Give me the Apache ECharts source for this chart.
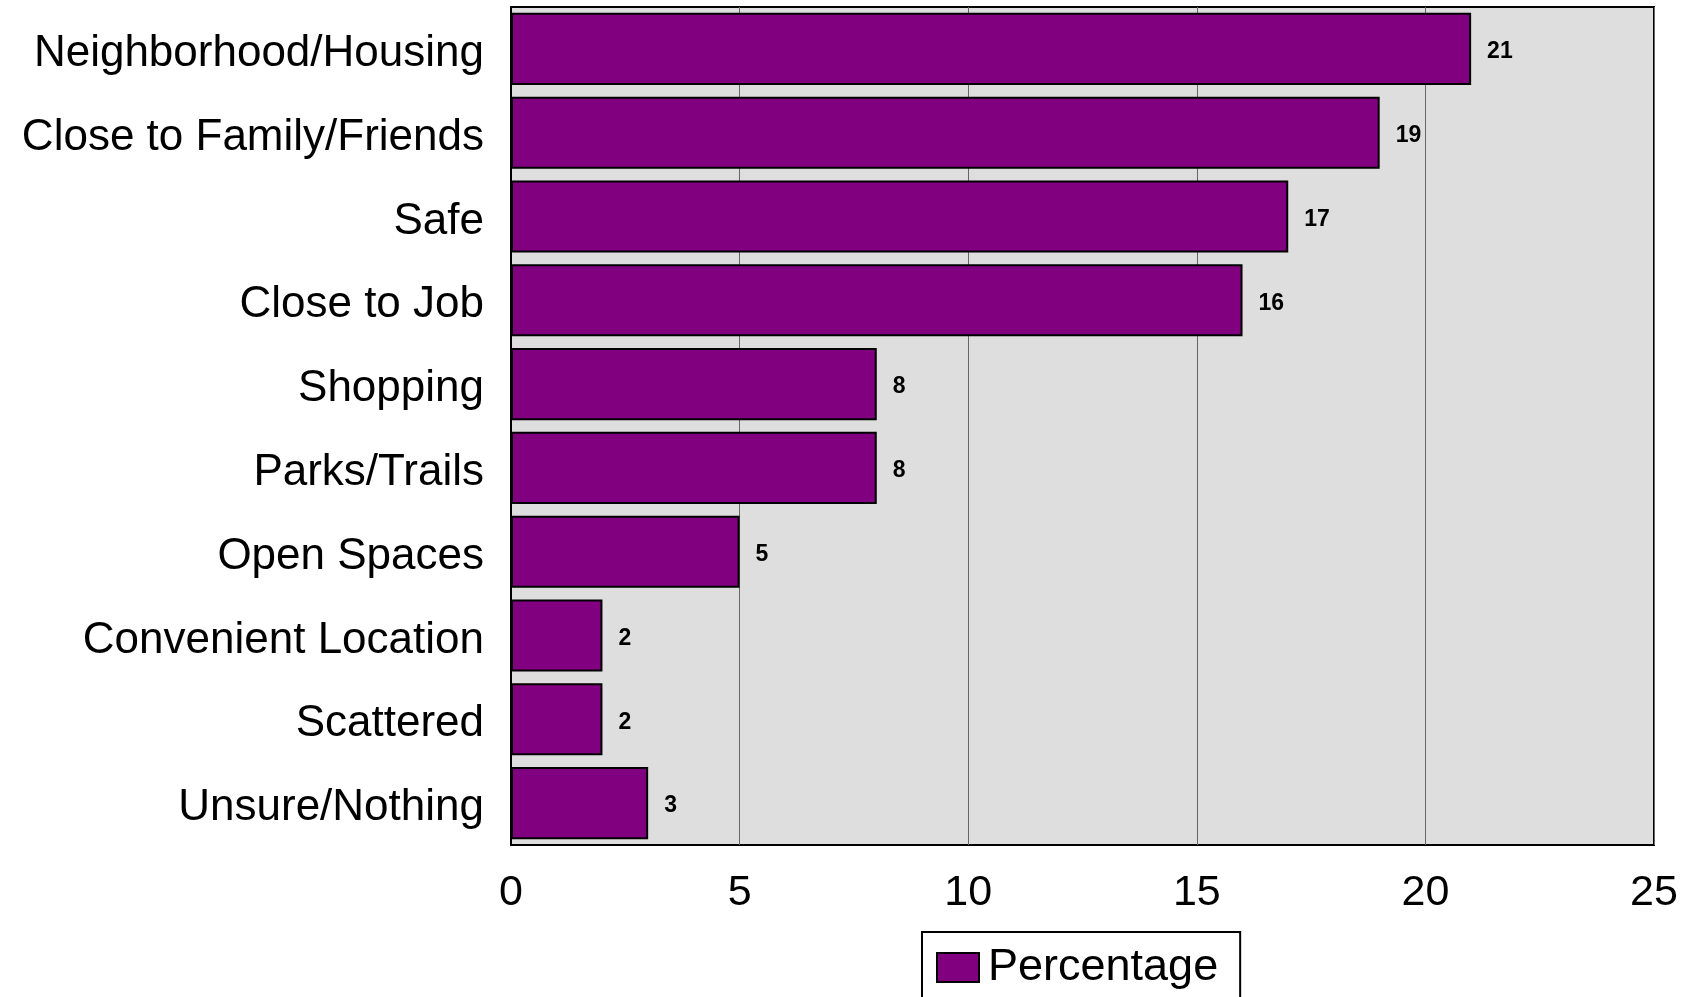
<!DOCTYPE html>
<html>
<head>
<meta charset="utf-8">
<script src="https://cdn.jsdelivr.net/npm/echarts@6/dist/echarts.min.js"></script>
<style>
  html, body { margin: 0; padding: 0; background: #fff; }
  #chart { width: 1698px; height: 997px; }
</style>
</head>
<body>
<div id="chart"></div>
<script>
// categories, top to bottom
const categories = [
  "Neighborhood/Housing",
  "Close to Family/Friends",
  "Safe",
  "Close to Job",
  "Shopping",
  "Parks/Trails",
  "Open Spaces",
  "Convenient Location",
  "Scattered",
  "Unsure/Nothing",
];
const percentage = [21, 19, 17, 16, 8, 8, 5, 2, 2, 3];
const xTicks = [0, 5, 10, 15, 20, 25];

const font = "'Liberation Sans', Arial, sans-serif";

const chart = echarts.init(document.getElementById("chart"));
const option = {
  animation: false,
  grid: {
    left: 511,
    top: 7,
    width: 1143,
    height: 838,
    show: true,
    backgroundColor: "#dedede",
    borderColor: "#000",
    borderWidth: 2,
  },
  legend: {
    data: ["Percentage"],
    left: 922,
    top: 932,
    padding: [13, 22, 20, 14],
    borderColor: "#000",
    borderWidth: 2,
    icon: "rect",
    itemWidth: 42,
    itemHeight: 29,
    textStyle: {
      fontFamily: font,
      fontSize: 45,
      color: "#000",
      padding: [0, 0, 0, 4],
    },
  },
  xAxis: {
    type: "value",
    min: xTicks[0],
    max: xTicks[xTicks.length - 1],
    interval: 5,
    axisLine: { show: false },
    axisTick: { show: false },
    splitLine: {
      show: true,
      lineStyle: { color: "#666", width: 1 },
    },
    axisLabel: {
      fontFamily: font,
      fontSize: 43,
      color: "#000",
      margin: 27,
    },
  },
  yAxis: {
    type: "category",
    data: categories,
    inverse: true,
    axisLine: { show: true, lineStyle: { color: "#000", width: 2 } },
    axisTick: { show: false },
    axisLabel: {
      fontFamily: font,
      fontSize: 44,
      color: "#000",
      margin: 27,
      formatter: "{c|{value}}",
      rich: {
        c: {
          fontFamily: font,
          fontSize: 44,
          color: "#000",
          padding: [10, 0, 0, 0],
        },
      },
    },
  },
  series: [
    {
      name: "Percentage",
      type: "bar",
      data: percentage,
      barCategoryGap: "14%",
      itemStyle: {
        color: "#800080",
        borderColor: "#000",
        borderWidth: 2,
      },
      label: {
        show: true,
        position: "right",
        distance: 16,
        offset: [0, 3],
        fontFamily: font,
        fontWeight: "bold",
        fontSize: 23,
        color: "#000",
      },
    },
  ],
};
chart.setOption(option);
</script>
</body>
</html>
